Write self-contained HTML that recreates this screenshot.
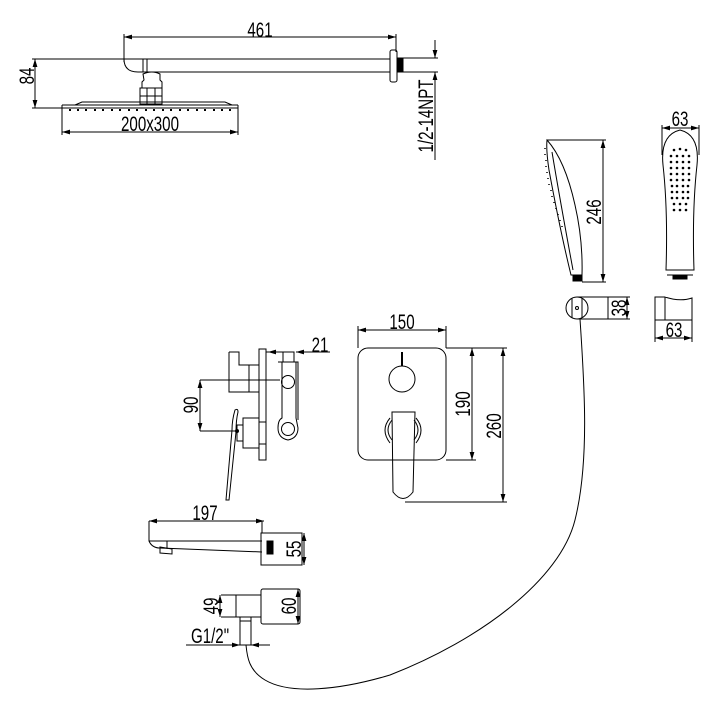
<!DOCTYPE html>
<html><head><meta charset="utf-8"><style>
html,body{margin:0;padding:0;background:#fff;}
svg{display:block;}
text{font-family:"Liberation Sans",sans-serif;font-size:21px;fill:#000;}
</style></head><body>
<svg width="720" height="711" viewBox="0 0 720 711" xmlns="http://www.w3.org/2000/svg">
<defs>
<marker id="a" viewBox="0 0 10 6" refX="10" refY="3" markerWidth="8" markerHeight="5" orient="auto-start-reverse"><path d="M0,0 L10,3 L0,6 z" fill="#000"/></marker>
</defs>
<g fill="none" stroke="#000" stroke-width="1">
<line x1="124" y1="37" x2="396" y2="37" marker-start="url(#a)" marker-end="url(#a)"/>
<line x1="124" y1="34" x2="124" y2="62"/>
<line x1="396" y1="34" x2="396" y2="52"/>
<path d="M124,59 L390,59 M155,72 L390,72"/>
<path d="M124,59 Q124,72 138,72 L155,72 M143,59 L143,72 M147,59 L147,72"/>
<rect x="390" y="50" width="7" height="32" rx="2"/>
<rect x="397" y="58" width="6" height="14" fill="#000"/>
<path d="M403,58 L438,58 M403,72 L438,72"/>
<line x1="435" y1="40" x2="435" y2="58" marker-end="url(#a)"/>
<line x1="435" y1="90" x2="435" y2="72" marker-end="url(#a)"/>
<line x1="435" y1="72" x2="435" y2="160"/>
<path d="M143,74 Q152,70 160,74 L160,80 L162,82 L162,88 L142,88 L142,82 L144,80 Z"/>
<rect x="140" y="88" width="22" height="16"/>
<line x1="140" y1="96" x2="162" y2="96"/>
<line x1="147" y1="88" x2="147" y2="104"/><line x1="155" y1="88" x2="155" y2="104"/>
<path d="M62,108 L238,108 M62,105 L238,105 M62,105 L62,108 M238,105 L238,108 M75,105 L82,102 L225,102 L232,105"/>
<g stroke-width="2">
<path d="M70,109 v2 M78,109 v2 M86,109 v2 M95,109 v2 M103,109 v2 M112,109 v2 M120,109 v2 M129,109 v2 M137,109 v2 M146,109 v2 M154,109 v2 M163,109 v2 M171,109 v2 M180,109 v2 M188,109 v2 M197,109 v2 M205,109 v2 M214,109 v2 M222,109 v2 M230,109 v2"/>
</g>
<line x1="35" y1="59" x2="35" y2="108" marker-start="url(#a)" marker-end="url(#a)"/>
<line x1="32" y1="59" x2="124" y2="59"/>
<line x1="32" y1="108" x2="62" y2="108"/>
<line x1="62" y1="132" x2="238" y2="132" marker-start="url(#a)" marker-end="url(#a)"/>
<line x1="62" y1="108" x2="62" y2="135"/><line x1="238" y1="108" x2="238" y2="135"/>

<path d="M547,140 Q546,150 549,170 Q560,230 571,275 L582,275 Q583,240 575,205 Q565,160 547,140 Z"/>
<path d="M552,152 Q560,200 573,270"/>
<path d="M547,140 L606,140"/>
<rect x="573" y="275" width="9" height="6" fill="#000"/>
<line x1="603" y1="140" x2="603" y2="282" marker-start="url(#a)" marker-end="url(#a)"/>
<line x1="582" y1="282" x2="606" y2="282"/>
<g stroke-width="1.5"><path d="M545,148v1 M545,154v1 M546,160v1 M546,166v1 M547,172v1 M548,178v1 M549,184v1 M551,190v1 M552,196v1 M554,202v1 M556,208v1 M558,214v1 M560,220v1 M562,226v1"/></g>
<path d="M666,270 Q668,210 663,165 Q660,135 680,130 Q700,135 697,165 Q692,210 694,270 Z"/>
<path d="M666,270 L694,270 M667,275 L693,275"/>
<rect x="673" y="275" width="14" height="4" fill="#000"/>
<line x1="662" y1="128" x2="699" y2="128" marker-start="url(#a)" marker-end="url(#a)"/>
<line x1="662" y1="125" x2="662" y2="155"/><line x1="699" y1="125" x2="699" y2="155"/>
<g fill="#000" stroke="none">
<circle cx="674" cy="150" r="1.3"/><circle cx="680" cy="149" r="1.3"/><circle cx="686" cy="150" r="1.3"/>
<circle cx="671" cy="156" r="1.3"/><circle cx="677" cy="156" r="1.3"/><circle cx="683" cy="156" r="1.3"/><circle cx="689" cy="156" r="1.3"/>
<circle cx="671" cy="162" r="1.3"/><circle cx="677" cy="162" r="1.3"/><circle cx="683" cy="162" r="1.3"/><circle cx="689" cy="162" r="1.3"/>
<circle cx="671" cy="168" r="1.3"/><circle cx="677" cy="168" r="1.3"/><circle cx="683" cy="168" r="1.3"/><circle cx="689" cy="168" r="1.3"/>
<circle cx="671" cy="174" r="1.3"/><circle cx="677" cy="174" r="1.3"/><circle cx="683" cy="174" r="1.3"/><circle cx="689" cy="174" r="1.3"/>
<circle cx="671" cy="180" r="1.3"/><circle cx="677" cy="180" r="1.3"/><circle cx="683" cy="180" r="1.3"/><circle cx="689" cy="180" r="1.3"/>
<circle cx="672" cy="186" r="1.3"/><circle cx="677" cy="186" r="1.3"/><circle cx="683" cy="186" r="1.3"/><circle cx="688" cy="186" r="1.3"/>
<circle cx="672" cy="192" r="1.3"/><circle cx="677" cy="192" r="1.3"/><circle cx="683" cy="192" r="1.3"/><circle cx="688" cy="192" r="1.3"/>
<circle cx="672" cy="198" r="1.3"/><circle cx="677" cy="198" r="1.3"/><circle cx="683" cy="198" r="1.3"/><circle cx="688" cy="198" r="1.3"/>
<circle cx="674" cy="204" r="1.3"/><circle cx="680" cy="204" r="1.3"/><circle cx="686" cy="204" r="1.3"/>
<circle cx="674" cy="210" r="1.3"/><circle cx="680" cy="210" r="1.3"/><circle cx="686" cy="210" r="1.3"/>
</g>
<circle cx="577" cy="308" r="11"/>
<path d="M572,298 L572,318 M582,298 L582,318"/>
<circle cx="577" cy="308" r="1.5"/>
<path d="M577,297 L608,297 L608,319 L577,319 M608,297 L630,297 M608,319 L630,319"/>
<line x1="627" y1="297" x2="627" y2="319" marker-start="url(#a)" marker-end="url(#a)"/>
<path d="M655,297 L665,297 L665,320 L655,320 Z M665,297 Q680,302 692,298 L692,320 L665,320"/>
<line x1="655" y1="320" x2="655" y2="342"/><line x1="692" y1="320" x2="692" y2="342"/>
<line x1="655" y1="338" x2="692" y2="338" marker-start="url(#a)" marker-end="url(#a)"/>
<path d="M580,319 C584,380 590,460 575,520 C560,580 480,640 390,675 C340,690 290,695 265,680 C248,670 247,655 246,645"/>

<rect x="358" y="348" width="88" height="112" rx="10"/>
<line x1="358" y1="330" x2="446" y2="330" marker-start="url(#a)" marker-end="url(#a)"/>
<line x1="358" y1="326" x2="358" y2="348"/><line x1="446" y1="326" x2="446" y2="348"/>
<circle cx="402" cy="379" r="13"/>
<line x1="402" y1="352" x2="402" y2="366" stroke-width="2"/>
<path d="M392,412 L415,412 L413,492 Q403,505 393,492 Z"/>
<path d="M392,420 Q384,430 392,440 M414,420 Q422,430 414,440 M390,418 Q380,430 390,443 M416,418 Q426,430 416,443"/>
<line x1="446" y1="348" x2="507" y2="348"/>
<line x1="446" y1="460" x2="476" y2="460"/>
<line x1="405" y1="502" x2="507" y2="502"/>
<line x1="472" y1="348" x2="472" y2="460" marker-start="url(#a)" marker-end="url(#a)"/>
<line x1="503" y1="348" x2="503" y2="502" marker-start="url(#a)" marker-end="url(#a)"/>

<rect x="259" y="349" width="7" height="111"/>
<path d="M229,352 L239,352 L239,365 L259,365 M229,352 L229,392 L259,392 M249,365 L249,392"/>
<path d="M282,362 L282,418 Q278,420 278,428 Q278,438 288,440 Q298,438 298,428 L296,418 L296,362 Z"/>
<path d="M278,362 L298,362 L298,420"/>
<circle cx="288" cy="382" r="6.5"/><circle cx="288" cy="429" r="6.5"/>
<rect x="283" y="352" width="11" height="10"/>
<line x1="280" y1="352" x2="268" y2="352" marker-end="url(#a)"/>
<line x1="266" y1="352" x2="283" y2="352"/>
<line x1="296" y1="352" x2="330" y2="352"/>
<line x1="312" y1="352" x2="296" y2="352" marker-end="url(#a)"/>
<path d="M243,418 L259,418 L259,448 L243,448 Z M243,425 L237,425 L237,441 L243,441 M259,422 L266,422 M259,444 L266,444"/>
<path d="M235,410 Q232,420 232,430 L226,500 L229,500 L236,432 Q236,420 238,412 Q238,408 235,410 Z"/>
<line x1="200" y1="380" x2="280" y2="380"/>
<line x1="200" y1="431" x2="235" y2="431"/>
<circle cx="237" cy="431" r="1.5" fill="#000"/>
<line x1="200" y1="380" x2="200" y2="431" marker-start="url(#a)" marker-end="url(#a)"/>

<line x1="149" y1="521" x2="264" y2="521" marker-start="url(#a)" marker-end="url(#a)"/>
<path d="M149,521 L149,541 Q152,548 160,548 L262,552 M149,541 L262,541 M167,541 L167,549"/>
<path d="M160,547 L172,549 L172,554 L160,553 Z"/>
<rect x="261" y="533" width="41" height="32"/>
<rect x="267" y="541" width="6" height="13" fill="#000"/>
<line x1="304" y1="533" x2="304" y2="565" marker-start="url(#a)" marker-end="url(#a)"/>
<line x1="262" y1="521" x2="262" y2="533"/>

<rect x="261" y="589" width="39" height="35" rx="2"/>
<path d="M236,595 L261,595 M236,617 L261,617 M236,595 L236,617 M221,595 L236,595 M221,617 L240,617"/>
<rect x="240" y="617" width="11" height="4"/>
<path d="M240,621 L240,645 M251,621 L251,645"/>
<line x1="220" y1="595" x2="220" y2="617" marker-start="url(#a)" marker-end="url(#a)"/>
<line x1="298" y1="589" x2="298" y2="624" marker-start="url(#a)" marker-end="url(#a)"/>
<line x1="186" y1="645" x2="270" y2="645"/>
<line x1="228" y1="645" x2="240" y2="645" marker-end="url(#a)"/>
<line x1="263" y1="645" x2="251" y2="645" marker-end="url(#a)"/>
</g>
<g text-anchor="middle">
<text transform="translate(260,37) scale(0.72,1)">461</text>
<text transform="translate(34,76) rotate(-90) scale(0.72,1)">84</text>
<text transform="translate(150,131) scale(0.72,1)">200x300</text>
<text transform="translate(433,116) rotate(-90) scale(0.72,1)" font-size="20">1/2-14NPT</text>
<text transform="translate(601,212) rotate(-90) scale(0.72,1)">246</text>
<text transform="translate(680,126) scale(0.72,1)">63</text>
<text transform="translate(626,308) rotate(-90) scale(0.72,1)">38</text>
<text transform="translate(674,337) scale(0.72,1)">63</text>
<text transform="translate(402,329) scale(0.72,1)">150</text>
<text transform="translate(320,352) scale(0.72,1)">21</text>
<text transform="translate(470,404) rotate(-90) scale(0.72,1)">190</text>
<text transform="translate(501,426) rotate(-90) scale(0.72,1)">260</text>
<text transform="translate(198,405) rotate(-90) scale(0.72,1)">90</text>
<text transform="translate(205,520) scale(0.72,1)">197</text>
<text transform="translate(301,549) rotate(-90) scale(0.72,1)">55</text>
<text transform="translate(218,606) rotate(-90) scale(0.72,1)">49</text>
<text transform="translate(296,606) rotate(-90) scale(0.72,1)">60</text>
<text transform="translate(210,643) scale(0.72,1)" font-size="20">G1/2"</text>
</g>
</svg>
</body></html>
